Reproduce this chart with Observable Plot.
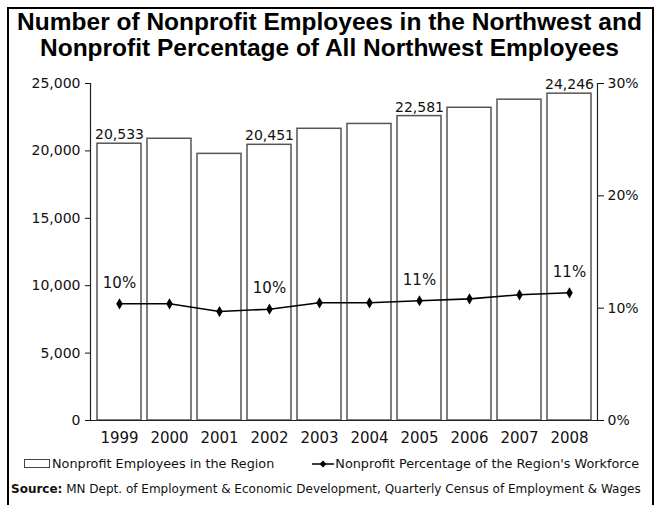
<!DOCTYPE html>
<html>
<head>
<meta charset="utf-8">
<script src="https://cdn.jsdelivr.net/npm/d3@7"></script>
<script src="https://cdn.jsdelivr.net/npm/@observablehq/plot@0.6"></script>
<style>
  html, body { margin: 0; padding: 0; background: #fff; }
  body { width: 659px; height: 505px; position: relative; overflow: hidden; font-family: "DejaVu Sans", sans-serif; color: #111; }
  #frame { position: absolute; left: 7px; top: 7px; width: 647px; height: 520px; border: 2px solid #000; box-sizing: border-box; }
  #title { position: absolute; left: 0; top: 9px; width: 659px; text-align: center; font-family: "Liberation Sans", Arial, sans-serif; font-weight: bold; font-size: 24.5px; line-height: 26px; color: #000; }
  #chart { position: absolute; left: 0; top: 70px; }
  #legend { position: absolute; left: 24px; top: 456px; font-size: 12.8px; white-space: nowrap; display: flex; align-items: center; }
  .sw { display: inline-block; width: 24px; height: 7px; border: 1px solid #444; margin-right: 2px; }
  #source { position: absolute; left: 11px; top: 482px; font-size: 12px; white-space: nowrap; }
</style>
</head>
<body>
<div id="frame"></div>
<div id="title">Number of Nonprofit Employees in the Northwest and<br>Nonprofit Percentage of All Northwest Employees</div>
<div id="chart"></div>
<div id="legend">
  <span class="sw"></span><span>Nonprofit Employees in the Region</span>
  <svg width="22" height="10" style="margin-left:38px;margin-right:1px"><line x1="0" y1="5" x2="22" y2="5" stroke="#000" stroke-width="1.5"/><path d="M11,1.5L14.5,5L11,8.5L7.5,5Z" fill="#000"/></svg><span>Nonprofit Percentage of the Region's Workforce</span>
</div>
<div id="source"><b>Source:</b> MN Dept. of Employment &amp; Economic Development, Quarterly Census of Employment &amp; Wages</div>
<script>
const years = ["1999","2000","2001","2002","2003","2004","2005","2006","2007","2008"];
const employees = [20533, 20900, 19780, 20451, 21640, 22000, 22581, 23200, 23800, 24246];
const percent = [10.39, 10.39, 9.70, 9.91, 10.48, 10.48, 10.66, 10.83, 11.19, 11.37];
const labeledYears = ["1999","2002","2005","2008"];
const pctLabels = ["10%","10%","11%","11%"];
const leftTicks = [0, 5000, 10000, 15000, 20000, 25000];
const rightTicks = [0, 10, 20, 30];

const yMax = 25000, pMax = 30;
const toY = p => p / pMax * yMax;
const data = years.map((y, i) => ({year: y, emp: employees[i], pct: percent[i]}));
const labeled = data.filter(d => labeledYears.includes(d.year));
const pctLab = labeled.map((d, i) => ({...d, lab: pctLabels[i]}));
const fmt = d3.format(",");

const chart = Plot.plot({
  width: 659,
  height: 382,
  marginLeft: 90,
  marginRight: 62,
  marginTop: 13,
  marginBottom: 32,
  style: {fontFamily: "DejaVu Sans, sans-serif", fontSize: "14px", color: "#111", background: "transparent"},
  x: {domain: years, paddingInner: 0.13, paddingOuter: 0.05, label: null},
  y: {domain: [0, yMax], label: null},
  marks: [
    Plot.barY(data, {x: "year", y: "emp", fill: "#fff", stroke: "#555", strokeWidth: 1.5}),
    Plot.ruleY([0], {stroke: "#222", strokeWidth: 1.2, insetLeft: -5}),
    Plot.frame({anchor: "left", stroke: "#222", strokeWidth: 1.2}),
    Plot.frame({anchor: "right", stroke: "#222", strokeWidth: 1.2}),
    Plot.axisY({ticks: leftTicks, tickFormat: fmt, tickSize: 5, tickPadding: 5, label: null, fontSize: 14}),
    Plot.axisY({anchor: "right", ticks: rightTicks.map(toY), tickFormat: v => Math.round(v / yMax * pMax) + "%", tickSize: 6, tickPadding: 4, label: null, fontSize: 14}),
    Plot.axisX({tickSize: 0, tickPadding: 12, label: null, fontSize: 15}),
    Plot.line(data, {x: "year", y: d => toY(d.pct), stroke: "#000", strokeWidth: 1.6}),
    Plot.dot(data, {x: "year", y: d => toY(d.pct), symbol: "diamond", r: 3.4, fill: "#000", stroke: null}),
    Plot.text(labeled, {x: "year", y: "emp", text: d => fmt(d.emp), dy: -9, fontSize: 14, fill: "#111"}),
    Plot.text(pctLab, {x: "year", y: d => toY(d.pct), text: "lab", dy: -21, fontSize: 15, fill: "#111"})
  ]
});
document.getElementById("chart").appendChild(chart);
</script>
</body>
</html>
